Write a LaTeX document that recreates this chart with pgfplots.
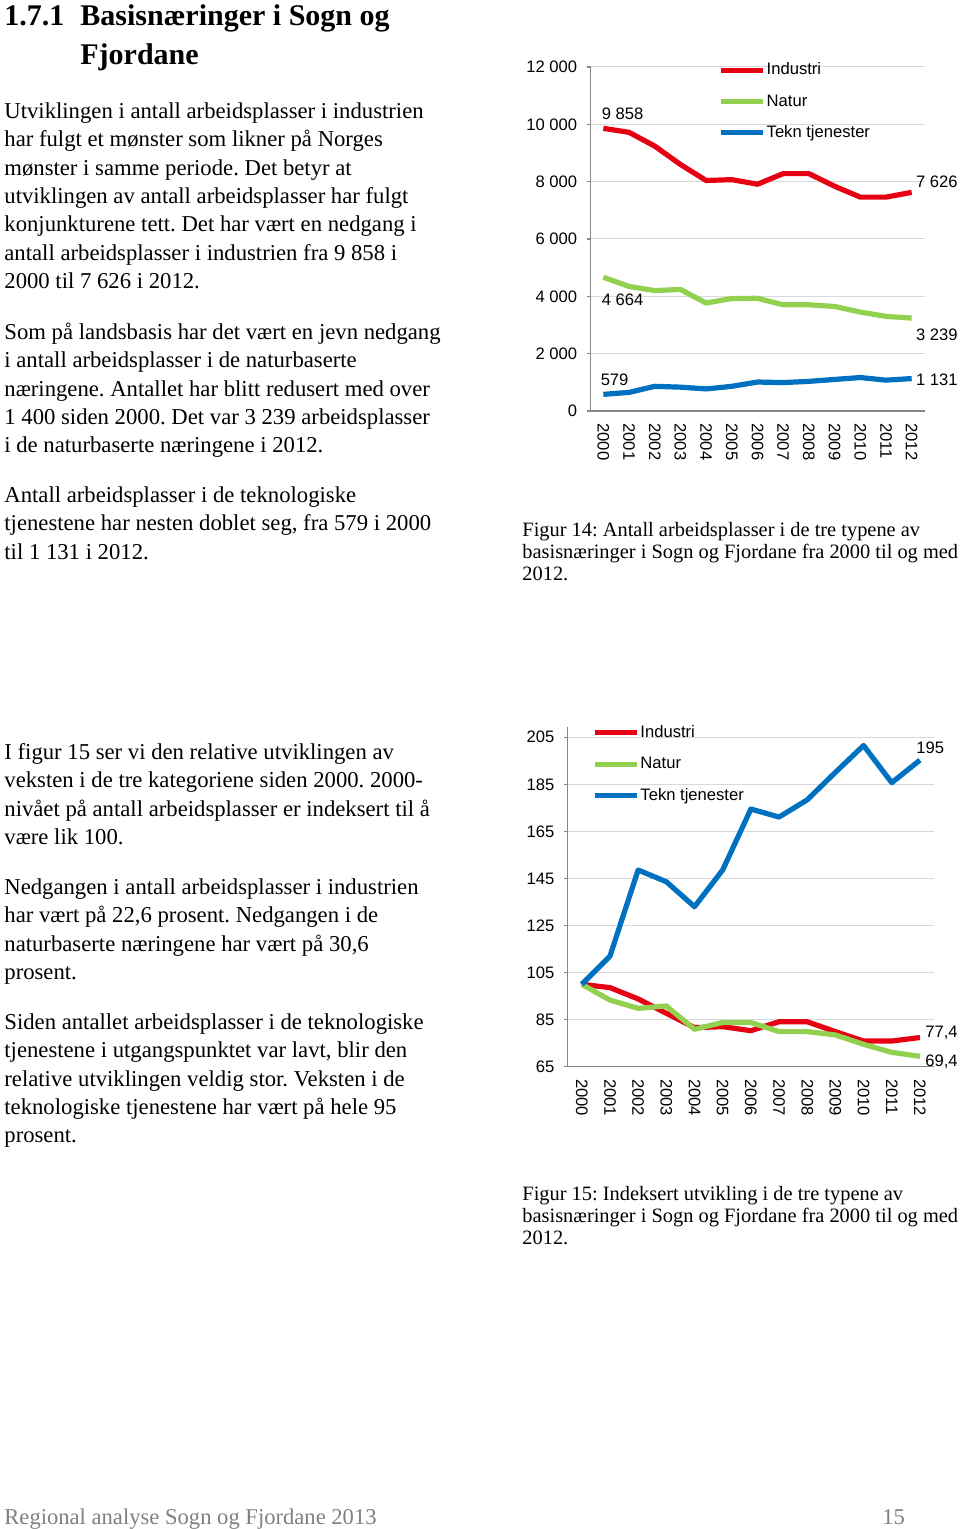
\documentclass[border=0pt]{standalone}
\usepackage{fontspec}
\setmainfont{Liberation Serif}
\newfontfamily\arial{Liberation Sans}
\usepackage{pgfplots}
\pgfplotsset{compat=1.18}
\frenchspacing
\definecolor{cred}{RGB}{230,0,18}
\definecolor{cgreen}{RGB}{146,208,80}
\definecolor{cblue}{RGB}{0,112,192}
\definecolor{axgray}{RGB}{134,134,134}
\definecolor{grgray}{RGB}{217,217,217}
\newcommand{\bodyfont}{\fontsize{11.35}{13}\selectfont}
\newcommand{\capfont}{\fontsize{10.2}{12}\selectfont}
\newcommand{\chfont}{\arial\fontsize{8.3}{10}\selectfont}
\newcommand{\T}[3]{\node[anchor=base west,inner sep=0pt,font=\bodyfont] at ({#1*0.5pt},{(1529-#2)*0.5pt}) {#3};}
\newcommand{\C}[3]{\node[anchor=base west,inner sep=0pt,font=\capfont] at ({#1*0.5pt},{(1529-#2)*0.5pt}) {#3};}
\pgfplotsset{
  pagechart/.style={
    scale only axis, anchor=south west, clip=false,
    xmin=-0.5, xmax=12.5,
    axis x line*=bottom, axis y line*=left,
    axis line style={draw=axgray, line width=0.6pt, -},
    xtick={0,1,2,3,4,5,6,7,8,9,10,11,12},
    xticklabels={2000,2001,2002,2003,2004,2005,2006,2007,2008,2009,2010,2011,2012},
    x tick label style={rotate=-90, anchor=west, inner sep=0pt, font=\chfont},
    y tick label style={anchor=east, inner sep=0pt, font=\chfont},
    scaled y ticks=false,
    xticklabel shift=4pt,
    yticklabel shift=4.5pt,
    major x tick style={draw=none},
    major y tick style={draw=axgray, line width=0.6pt},
    tick align=outside, major tick length=2pt,
    ymajorgrids, grid style={draw=grgray, line width=0.5pt},
    legend cell align=left,
    legend image code/.code={\draw[##1, line width=2.5pt] (0pt,0pt) -- (21pt,0pt);},
    legend style={draw=none, fill=none, inner sep=0pt, font=\chfont, row sep=6pt,
      nodes={text height=6.5pt, text depth=2pt, inner sep=0.6pt}},
    every axis plot/.append style={line width=2.6pt, line join=round, no marks},
  }
}
\begin{document}
\begin{tikzpicture}
\path[fill=white, use as bounding box] (0,0) rectangle (480pt,764.5pt);
% heading
\node[anchor=base west,inner sep=0pt,font=\fontsize{15}{18}\selectfont\bfseries] at ({4*0.5pt},{(1529-26)*0.5pt}) {1.7.1};
\node[anchor=base west,inner sep=0pt,font=\fontsize{15}{18}\selectfont\bfseries] at ({80*0.5pt},{(1529-26)*0.5pt}) {Basisnæringer i Sogn og};
\node[anchor=base west,inner sep=0pt,font=\fontsize{15}{18}\selectfont\bfseries] at ({80*0.5pt},{(1529-64.5)*0.5pt}) {Fjordane};
% paragraph 1
\T{4}{118.3}{Utviklingen i antall arbeidsplasser i industrien}
\T{4}{146.7}{har fulgt et mønster som likner på Norges}
\T{4}{175.1}{mønster i samme periode. Det betyr at}
\T{4}{203.5}{utviklingen av antall arbeidsplasser har fulgt}
\T{4}{231.9}{konjunkturene tett. Det har vært en nedgang i}
\T{4}{260.3}{antall arbeidsplasser i industrien fra 9 858 i}
\T{4}{288.7}{2000 til 7 626 i 2012.}
\T{4}{339.3}{Som på landsbasis har det vært en jevn nedgang}
\T{4}{367.7}{i antall arbeidsplasser i de naturbaserte}
\T{4}{396.1}{næringene. Antallet har blitt redusert med over}
\T{4}{424.5}{1 400 siden 2000. Det var 3 239 arbeidsplasser}
\T{4}{452.9}{i de naturbaserte næringene i 2012.}
\T{4}{502.3}{Antall arbeidsplasser i de teknologiske}
\T{4}{530.7}{tjenestene har nesten doblet seg, fra 579 i 2000}
\T{4}{559.1}{til 1 131 i 2012.}
% section 2
\T{4}{759.3}{I figur 15 ser vi den relative utviklingen av}
\T{4}{787.7}{veksten i de tre kategoriene siden 2000. 2000-}
\T{4}{816.1}{nivået på antall arbeidsplasser er indeksert til å}
\T{4}{844.5}{være lik 100.}
\T{4}{894.5}{Nedgangen i antall arbeidsplasser i industrien}
\T{4}{922.9}{har vært på 22,6 prosent. Nedgangen i de}
\T{4}{951.3}{naturbaserte næringene har vært på 30,6}
\T{4}{979.7}{prosent.}
\T{4}{1029.3}{Siden antallet arbeidsplasser i de teknologiske}
\T{4}{1057.7}{tjenestene i utgangspunktet var lavt, blir den}
\T{4}{1086.1}{relative utviklingen veldig stor. Veksten i de}
\T{4}{1114.5}{teknologiske tjenestene har vært på hele 95}
\T{4}{1142.9}{prosent.}
% captions
\C{522}{536.5}{Figur 14: Antall arbeidsplasser i de tre typene av}
\C{522}{558.5}{basisnæringer i Sogn og Fjordane fra 2000 til og med}
\C{522}{580.5}{2012.}
\C{522}{1201}{Figur 15: Indeksert utvikling i de tre typene av}
\C{522}{1223}{basisnæringer i Sogn og Fjordane fra 2000 til og med}
\C{522}{1245}{2012.}
% footer
\node[anchor=base west,inner sep=0pt,font=\fontsize{11.3}{13}\selectfont,text=gray] at ({4*0.5pt},{(1529-1525)*0.5pt}) {Regional analyse Sogn og Fjordane 2013};
\node[anchor=base west,inner sep=0pt,font=\fontsize{11.3}{13}\selectfont,text=gray] at ({882*0.5pt},{(1529-1525)*0.5pt}) {15};

% chart 1
\begin{axis}[pagechart,
  at={(295.25pt,559pt)}, width=167pt, height=172pt,
  ymin=0, ymax=12000,
  ytick={0,2000,4000,6000,8000,10000,12000},
  yticklabels={0,2 000,4 000,6 000,8 000,10 000,12 000},
  legend style={at={(0.382,1.02)}, anchor=north west},
]
\addplot[cred] coordinates {(0,9858)(1,9720)(2,9240)(3,8600)(4,8040)(5,8070)(6,7910)(7,8280)(8,8280)(9,7840)(10,7460)(11,7460)(12,7626)};
\addplot[cgreen] coordinates {(0,4664)(1,4345)(2,4200)(3,4240)(4,3765)(5,3925)(6,3930)(7,3705)(8,3705)(9,3645)(10,3450)(11,3300)(12,3239)};
\addplot[cblue] coordinates {(0,579)(1,648)(2,860)(3,831)(4,770)(5,860)(6,1010)(7,990)(8,1033)(9,1100)(10,1167)(11,1075)(12,1131)};
\legend{Industri,Natur,Tekn tjenester}
\node[anchor=west,inner sep=0pt,font=\chfont,xshift=-1pt,yshift=7.5pt] at (axis cs:0,9858) {9 858};
\node[anchor=west,inner sep=0pt,font=\chfont,xshift=-1pt,yshift=-11.5pt] at (axis cs:0,4664) {4 664};
\node[anchor=west,inner sep=0pt,font=\chfont,xshift=-1.5pt,yshift=7.5pt] at (axis cs:0,579) {579};
\node[anchor=west,inner sep=0pt,font=\chfont,xshift=2pt,yshift=5.5pt] at (axis cs:12,7626) {7 626};
\node[anchor=west,inner sep=0pt,font=\chfont,xshift=2pt,yshift=-8.5pt] at (axis cs:12,3239) {3 239};
\node[anchor=west,inner sep=0pt,font=\chfont,xshift=2pt,yshift=-0.5pt] at (axis cs:12,1131) {1 131};
\end{axis}

% chart 2
\begin{axis}[pagechart,
  at={(283.85pt,231.15pt)}, width=183.15pt, height=170pt,
  ymin=65, ymax=209.5,
  ytick={65,85,105,125,145,165,185,205},
  yticklabels={65,85,105,125,145,165,185,205},
  legend style={at={(0.066,1.012)}, anchor=north west},
]
\addplot[cred] coordinates {(0,100)(1,98.6)(2,93.8)(3,87.7)(4,81.6)(5,82)(6,80.3)(7,84.1)(8,84.1)(9,79.9)(10,75.9)(11,75.9)(12,77.4)};
\addplot[cgreen] coordinates {(0,100)(1,93.3)(2,89.8)(3,90.8)(4,80.9)(5,83.8)(6,83.8)(7,79.9)(8,79.9)(9,78.5)(10,74.5)(11,71.1)(12,69.4)};
\addplot[cblue] coordinates {(0,100)(1,112)(2,148.6)(3,143.6)(4,133)(5,148.6)(6,174.5)(7,171.1)(8,178.4)(9,190.1)(10,201.5)(11,185.7)(12,195.3)};
\legend{Industri,Natur,Tekn tjenester}
\node[anchor=west,inner sep=0pt,font=\chfont,xshift=-2pt,yshift=6pt] at (axis cs:12,195.3) {195};
\node[anchor=west,inner sep=0pt,font=\chfont,xshift=2.5pt,yshift=2.5pt] at (axis cs:12,77.4) {77,4};
\node[anchor=west,inner sep=0pt,font=\chfont,xshift=2.5pt,yshift=-2.5pt] at (axis cs:12,69.4) {69,4};
\end{axis}
\end{tikzpicture}
\end{document}
